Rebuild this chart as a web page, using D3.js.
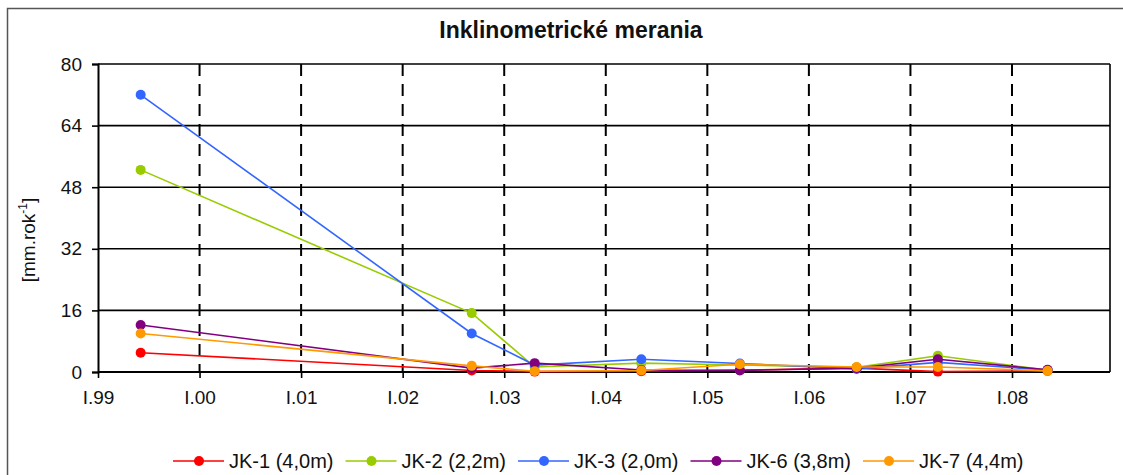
<!DOCTYPE html>
<html>
<head>
<meta charset="utf-8">
<script src="https://cdn.jsdelivr.net/npm/d3@7"></script>
<style>
  html, body { margin: 0; padding: 0; background: #fff; }
  svg { display: block; font-family: "Liberation Sans", Arial, sans-serif; }
</style>
</head>
<body>
<svg id="chart" width="1123" height="475"></svg>
<script>
// ---- data ----
const times = [1999.42, 2002.68, 2003.30, 2004.35, 2005.32, 2006.47, 2007.27, 2008.35];
const seriesNames = ["JK-1 (4,0m)", "JK-2 (2,2m)", "JK-3 (2,0m)", "JK-6 (3,8m)", "JK-7 (4,4m)"];
const jk1 = [5.0, 0.4, 0.1, 0.2, 0.5, 1.0, 0.1, 0.3];
const jk2 = [52.5, 15.3, 1.3, 2.3, 1.8, 1.2, 4.2, 0.5];
const jk3 = [72.0, 10.0, 1.8, 3.3, 2.2, 0.8, 2.5, 0.5];
const jk6 = [12.2, 1.0, 2.3, 0.5, 0.4, 1.0, 3.3, 0.6];
const jk7 = [10.0, 1.6, 0.2, 0.4, 2.0, 1.3, 1.3, 0.3];
const xTickValues = [1999, 2000, 2001, 2002, 2003, 2004, 2005, 2006, 2007, 2008];
const xTickLabels = ["I.99", "I.00", "I.01", "I.02", "I.03", "I.04", "I.05", "I.06", "I.07", "I.08"];
const yTickValues = [0, 16, 32, 48, 64, 80];

const seriesValues = [jk1, jk2, jk3, jk6, jk7];
const colors = ["#ff0000", "#99cc00", "#3366ff", "#800080", "#ff9900"];

// ---- layout ----
const svg = d3.select("#chart");
const pLeft = 98, pRight = 1110, pTop = 64, pBottom = 372;

const x = d3.scaleLinear().domain([1999, 2008.965]).range([pLeft, pRight]);
const y = d3.scaleLinear().domain([0, 80]).range([pBottom, pTop]);

// outer frame
svg.append("rect").attr("x", 7.5).attr("y", 8.5).attr("width", 1300).attr("height", 700)
  .attr("fill", "#fff").attr("stroke", "#555").attr("stroke-width", 1.5);

// title
svg.append("text").attr("x", 571).attr("y", 38).attr("text-anchor", "middle")
  .attr("font-size", 23).attr("font-weight", "bold").attr("fill", "#111")
  .text("Inklinometrické merania");

// horizontal grid
svg.append("g").selectAll("line").data(yTickValues.filter(v => v > 0)).join("line")
  .attr("x1", pLeft).attr("x2", pRight).attr("y1", d => y(d)).attr("y2", d => y(d))
  .attr("stroke", "#000").attr("stroke-width", 1.6);

// vertical dashed grid
svg.append("g").selectAll("line").data(xTickValues.filter(v => v > 1999)).join("line")
  .attr("x1", d => x(d)).attr("x2", d => x(d)).attr("y1", pTop).attr("y2", pBottom)
  .attr("stroke", "#000").attr("stroke-width", 2).attr("stroke-dasharray", "12,8");

// right border
svg.append("line").attr("x1", pRight).attr("x2", pRight).attr("y1", pTop).attr("y2", pBottom)
  .attr("stroke", "#000").attr("stroke-width", 1.6);

// y axis
const yAxis = svg.append("g").attr("transform", `translate(${pLeft},0)`)
  .call(d3.axisLeft(y).tickValues(yTickValues).tickSize(6).tickPadding(10).tickFormat(d3.format("d")));
yAxis.select(".domain").attr("stroke", "#000").attr("stroke-width", 2);
yAxis.selectAll(".tick line").attr("stroke", "#000").attr("stroke-width", 1.6);
yAxis.selectAll(".tick text").attr("font-size", 19).attr("fill", "#111")
  .attr("font-family", "Liberation Sans, Arial, sans-serif");

// x axis
const xAxis = svg.append("g").attr("transform", `translate(0,${pBottom})`)
  .call(d3.axisBottom(x).tickValues(xTickValues).tickSize(6).tickPadding(13)
    .tickFormat((d, i) => xTickLabels[i]));
xAxis.select(".domain").attr("d", `M${pLeft},0H${pRight}`).attr("stroke", "#000").attr("stroke-width", 2);
xAxis.selectAll(".tick line").attr("stroke", "#000").attr("stroke-width", 1.6);
xAxis.selectAll(".tick text").attr("font-size", 19).attr("fill", "#111")
  .attr("font-family", "Liberation Sans, Arial, sans-serif");

// y label
const yl = svg.append("text").attr("transform", "translate(35,240) rotate(-90)")
  .attr("text-anchor", "middle").attr("font-size", 19).attr("fill", "#111");
yl.append("tspan").text("[mm.rok");
yl.append("tspan").attr("font-size", 12).attr("dy", -8).text("-1");
yl.append("tspan").attr("dy", 8).text("]");

// series
const line = d3.line().x((d, i) => x(times[i])).y(d => y(d));
seriesValues.forEach((vals, s) => {
  const g = svg.append("g");
  g.append("path").datum(vals).attr("d", line).attr("fill", "none")
    .attr("stroke", colors[s]).attr("stroke-width", 1.6);
  g.selectAll("circle").data(vals).join("circle")
    .attr("cx", (d, i) => x(times[i])).attr("cy", d => y(d)).attr("r", 5)
    .attr("fill", colors[s]);
});

// legend
const legendX0 = 173, legendStep = 172.5, legendY = 461;
const lg = svg.append("g").selectAll("g").data(seriesNames).join("g")
  .attr("transform", (d, i) => `translate(${legendX0 + i * legendStep},${legendY})`);
lg.append("line").attr("x1", 0).attr("x2", 51).attr("y1", 0).attr("y2", 0)
  .attr("stroke", (d, i) => colors[i]).attr("stroke-width", 1.6);
lg.append("circle").attr("cx", 26).attr("cy", 0).attr("r", 5).attr("fill", (d, i) => colors[i]);
lg.append("text").attr("x", 56).attr("y", 7).attr("font-size", 20).attr("fill", "#111").text(d => d);
</script>
</body>
</html>
